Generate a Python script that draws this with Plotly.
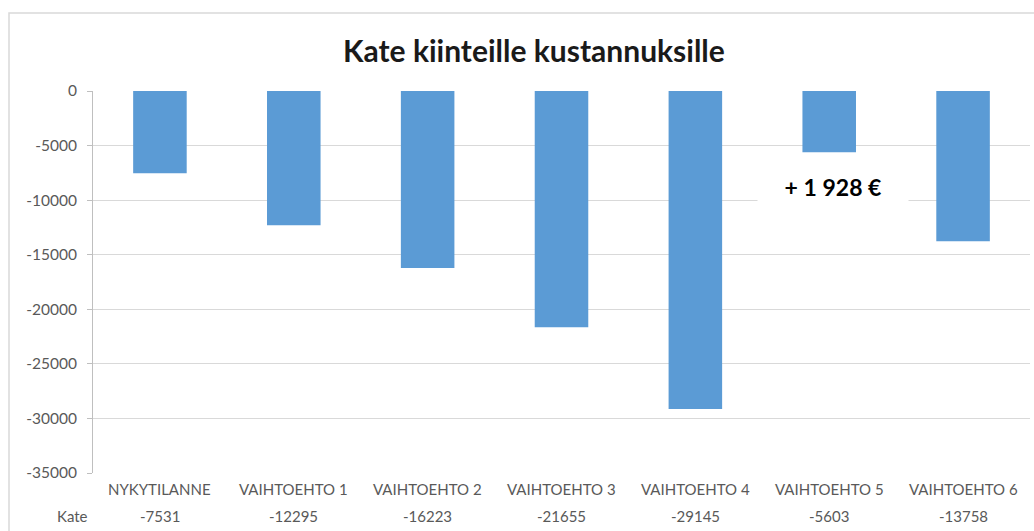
import plotly.graph_objects as go

categories = ["NYKYTILANNE", "VAIHTOEHTO 1", "VAIHTOEHTO 2", "VAIHTOEHTO 3",
              "VAIHTOEHTO 4", "VAIHTOEHTO 5", "VAIHTOEHTO 6"]
kate = [-7531, -12295, -16223, -21655, -29145, -5603, -13758]
tick_vals = [0, -5000, -10000, -15000, -20000, -25000, -30000, -35000]
tick_text = ["0", "-5000", "-10000", "-15000", "-20000", "-25000", "-30000", "-35000"]
title_text = "Kate kiinteille kustannuksille"
row_label = "Kate"
note_text = "+ 1 928 €"

FONT = "Lato, Calibri, Open Sans, sans-serif"
GRAY = "#595959"

W, H = 1034, 531
L, R, T, B = 93, 4, 91, 58

fig = go.Figure()
fig.add_trace(go.Bar(x=categories, y=kate, marker=dict(color="#5B9BD5", line=dict(width=0)),
                     width=0.4, showlegend=False, hoverinfo="x+y"))

fig.update_layout(
    width=W, height=H,
    margin=dict(l=L, r=R, t=T, b=B),
    paper_bgcolor="white", plot_bgcolor="white",
    font=dict(family=FONT, color=GRAY, size=14),
    bargap=0.6,
)
fig.update_xaxes(showticklabels=False, showgrid=False, showline=False, zeroline=False,
                 range=[-0.5, len(categories) - 0.5])
fig.update_yaxes(range=[-35000, 0], tickvals=tick_vals, ticktext=tick_text,
                 showgrid=True, gridcolor="#D9D9D9", gridwidth=1, zeroline=False,
                 showline=True, linecolor="#BFBFBF", linewidth=1,
                 ticks="outside", ticklen=5, tickcolor="#BFBFBF",
                 ticklabelstandoff=7,
                 tickfont=dict(family=FONT, size=15.5, color=GRAY))

# chart border
fig.add_shape(type="rect", xref="paper", yref="paper",
              x0=-(L - 9) / (W - L - R), x1=1 + (R + 20) / (W - L - R),
              y0=-(B + 10) / (H - T - B), y1=1 + (T - 13) / (H - T - B),
              line=dict(color="#D9D9D9", width=1.5), layer="below")

# title
fig.add_annotation(text="<b>" + title_text + "</b>", xref="paper", yref="paper",
                   x=(534 - L) / (W - L - R), y=1 + (T - 50) / (H - T - B),
                   showarrow=False, xanchor="center", yanchor="middle",
                   font=dict(family=FONT, size=30, color="#1a1a1a"))

# data table
plot_h = H - T - B
for c, v in zip(categories, kate):
    fig.add_annotation(text=c, x=c, xref="x", yref="paper", y=-(489 - (H - B)) / plot_h,
                       showarrow=False, yanchor="middle",
                       font=dict(family=FONT, size=15, color=GRAY))
    fig.add_annotation(text=str(v), x=c, xref="x", yref="paper", y=-(516 - (H - B)) / plot_h,
                       showarrow=False, yanchor="middle",
                       font=dict(family=FONT, size=15, color=GRAY))
fig.add_annotation(text=row_label, xref="paper", yref="paper",
                   x=-(L - 72) / (W - L - R), y=-(516 - (H - B)) / plot_h,
                   showarrow=False, xanchor="center", yanchor="middle",
                   font=dict(family=FONT, size=15, color=GRAY))

# note box
fig.add_annotation(text="<b>" + note_text + "</b>", xref="paper", yref="paper",
                   x=(833 - L) / (W - L - R), y=1 - (187 - T) / plot_h,
                   showarrow=False, xanchor="center", yanchor="middle",
                   bgcolor="white", width=148, height=34,
                   font=dict(family=FONT, size=23, color="#000000"))

fig.write_html("out.html")
